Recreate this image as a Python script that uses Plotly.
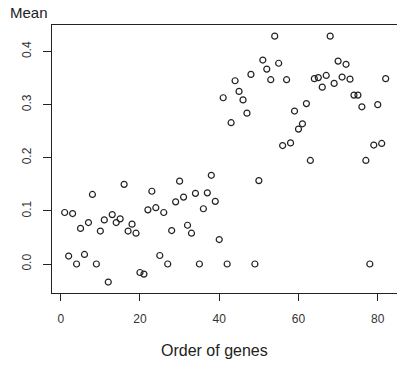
import plotly.graph_objects as go

gene_order = list(range(1, 83))
mean_values = [
    0.097, 0.015, 0.095, 0.000, 0.067, 0.018, 0.078, 0.131, 0.000, 0.062,
    0.083, -0.034, 0.093, 0.078, 0.085, 0.150, 0.062, 0.075, 0.058, -0.016,
    -0.019, 0.102, 0.137, 0.106, 0.016, 0.097, 0.000, 0.063, 0.117, 0.156,
    0.126, 0.073, 0.058, 0.133, 0.000, 0.104, 0.134, 0.167, 0.118, 0.046,
    0.313, 0.000, 0.266, 0.345, 0.325, 0.309, 0.284, 0.357, 0.000, 0.157,
    0.384, 0.367, 0.347, 0.429, 0.378, 0.223, 0.347, 0.228, 0.288, 0.254,
    0.264, 0.302, 0.195, 0.349, 0.351, 0.333, 0.355, 0.429, 0.340, 0.382,
    0.352, 0.376, 0.348, 0.318, 0.318, 0.296, 0.195, 0.000, 0.224, 0.300,
    0.227, 0.349,
]
x_ticks = [0, 20, 40, 60, 80]
x_tick_labels = ["0", "20", "40", "60", "80"]
y_ticks = [0.0, 0.1, 0.2, 0.3, 0.4]
y_tick_labels = ["0.0", "0.1", "0.2", "0.3", "0.4"]

ink = "#222222"
font_family = "Liberation Sans, Arial, sans-serif"

fig = go.Figure(
    go.Scatter(
        x=gene_order,
        y=mean_values,
        mode="markers",
        marker=dict(symbol="circle-open", size=6, color=ink, line=dict(width=1.2, color=ink)),
        showlegend=False,
    )
)

fig.update_layout(
    width=397,
    height=365,
    margin=dict(l=52, r=0, t=25, b=72),
    paper_bgcolor="white",
    plot_bgcolor="white",
    font=dict(family=font_family, color=ink, size=12),
    xaxis=dict(
        range=[-2.2, 84.86],
        tickvals=x_ticks,
        ticktext=x_tick_labels,
        ticks="outside",
        ticklen=7,
        tickwidth=1,
        tickcolor=ink,
        showline=True,
        linecolor=ink,
        linewidth=1,
        mirror=True,
        showgrid=False,
        zeroline=False,
        tickfont=dict(size=12, color="#333333"),
        ticklabelstandoff=8,
    ),
    yaxis=dict(
        range=[-0.0546, 0.450],
        tickvals=y_ticks,
        ticktext=y_tick_labels,
        ticks="outside",
        ticklen=8,
        tickwidth=1,
        tickcolor=ink,
        showline=True,
        linecolor=ink,
        linewidth=1,
        mirror=False,
        showgrid=False,
        zeroline=False,
        tickangle=-90,
        tickfont=dict(size=12, color="#333333"),
        ticklabelstandoff=7,
    ),
    annotations=[
        dict(text="Mean", xref="paper", yref="paper", x=-0.128, y=1.045,
             xanchor="left", yanchor="middle", showarrow=False,
             font=dict(size=15, color=ink)),
        dict(text="Order of genes", xref="paper", yref="paper", x=0.472, y=-0.214,
             xanchor="center", yanchor="middle", showarrow=False,
             font=dict(size=16, color=ink)),
    ],
)

fig.write_html("out.html")
